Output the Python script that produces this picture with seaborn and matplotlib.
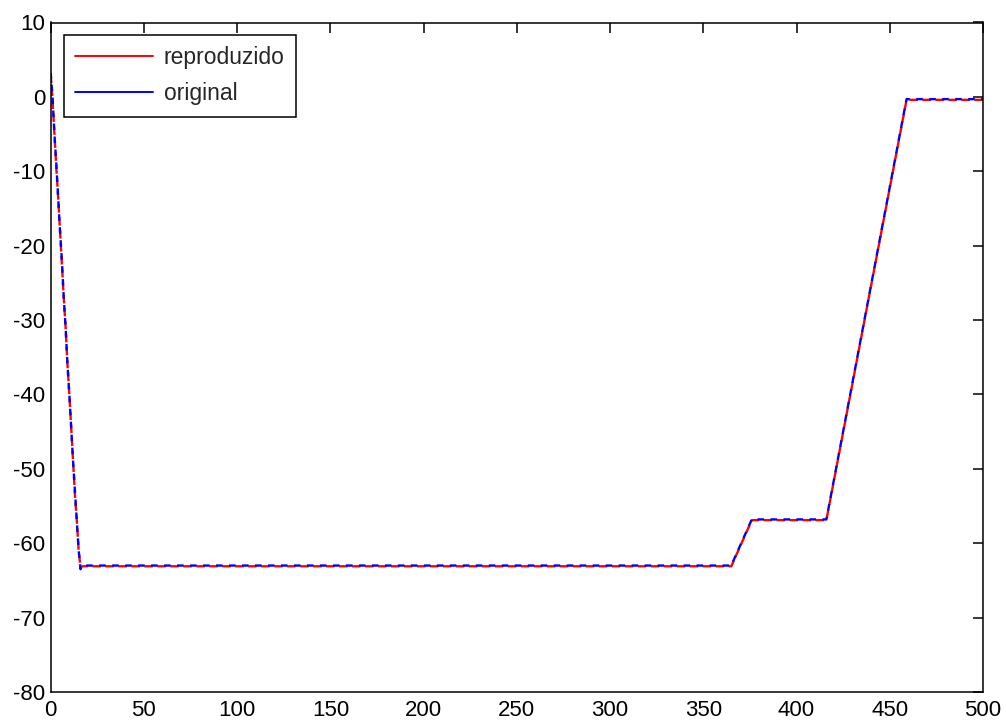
import numpy as np
import pandas as pd
import matplotlib
matplotlib.use("Agg")
import matplotlib.pyplot as plt
from matplotlib.lines import Line2D
import seaborn as sns

# ---- data ----
time = [0, 1, 2, 3, 4, 5, 6, 7, 8, 9, 10, 11, 12, 13, 14, 15, 16, 17,
        365, 376, 416, 459, 500]
original = [3.2, 0, -5, -9, -13.5, -18, -22, -27, -31, -36, -40, -44.5,
            -49, -53, -57, -61, -63.5, -63, -63, -56.8, -56.8, -0.3, -0.3]
reproduzido = [3.0, -0.5, -5, -9.5, -13.5, -18, -22.5, -27, -31, -36, -40, -44.5,
               -49, -53.5, -57, -61, -63.3, -63.1, -63.1, -56.9, -56.9, -0.4, -0.4]
labels = ["reproduzido", "original"]
colors = ["#ff0000", "#0000ff"]
xticks = list(range(0, 501, 50))
yticks = list(range(-80, 11, 10))

sns.set_style("white")
plt.rcParams["font.family"] = ["Liberation Sans", "DejaVu Sans"]
plt.rcParams["axes.unicode_minus"] = False

fig = plt.figure(figsize=(10.06, 7.22), dpi=100)
ax = fig.add_axes([50.7 / 1006, 1 - 692 / 722, (983 - 50.7) / 1006, (692 - 22.5) / 722])

df_r = pd.DataFrame({"t": time, "v": reproduzido})
df_o = pd.DataFrame({"t": time, "v": original})
sns.lineplot(data=df_r, x="t", y="v", ax=ax, color=colors[0], lw=1.7,
             estimator=None, sort=False)
sns.lineplot(data=df_o, x="t", y="v", ax=ax, color=colors[1], lw=1.7,
             estimator=None, sort=False)
ax.lines[0].set_linestyle((0, (3.6, 1.9)))
ax.lines[1].set_linestyle((0.6, (2.8, 2.7)))

ax.set_xlim(0, 500)
ax.set_ylim(-80, 10)
ax.set_xticks(xticks)
ax.set_yticks(yticks)
ax.set_xlabel("")
ax.set_ylabel("")
ax.tick_params(direction="in", length=7, width=1.1, top=True, right=True,
               labelsize=16, colors="black")
ax.tick_params(axis="x", pad=6)
ax.tick_params(axis="y", pad=4)
for s in ax.spines.values():
    s.set_visible(True)
    s.set_color("black")
    s.set_linewidth(1.1)

handles = [Line2D([], [], color=c, lw=1.4) for c in colors]
leg = ax.legend(handles, labels, loc="upper left",
                bbox_to_anchor=((64 - 50.7) / 932, 1 - (35 - 22.5) / 670),
                borderaxespad=0, fontsize=16.5, handlelength=3.4, handletextpad=0.45,
                labelspacing=0.55, borderpad=0.5, fancybox=False, framealpha=1)
leg.get_frame().set_edgecolor("black")
leg.get_frame().set_linewidth(1.1)

fig.savefig("out.png", dpi=100, facecolor="white")
